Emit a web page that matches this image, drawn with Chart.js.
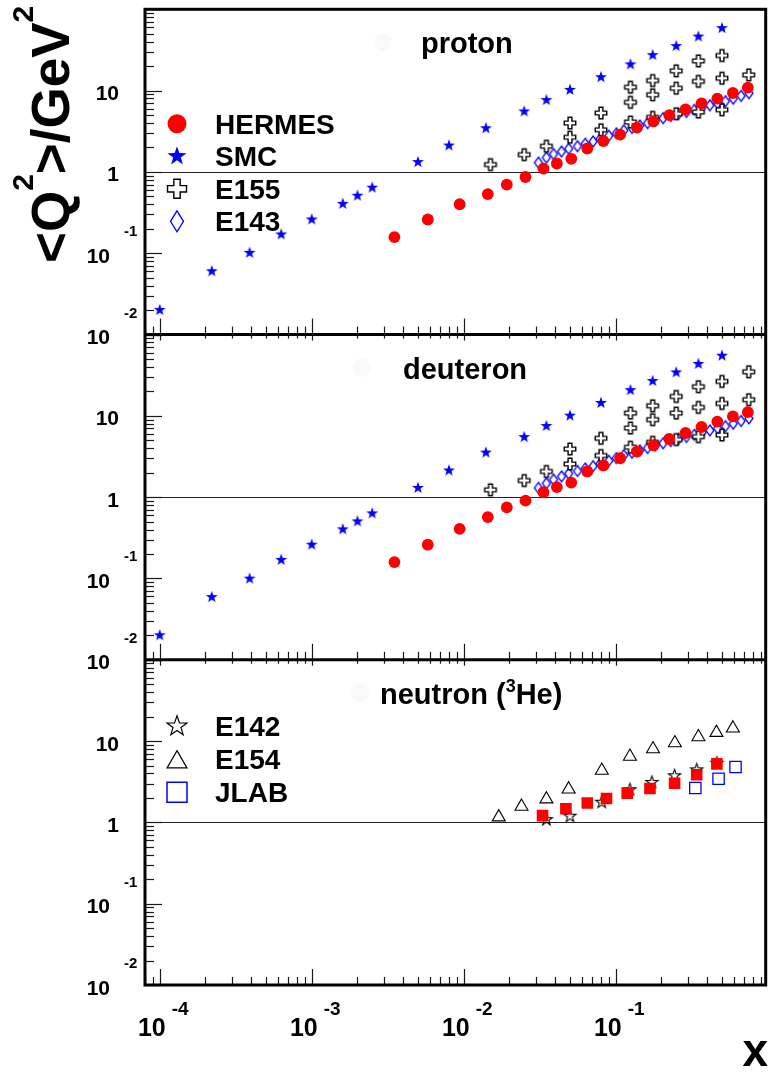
<!DOCTYPE html>
<html>
<head>
<meta charset="utf-8">
<title>Q2 vs x</title>
<script src="https://cdn.jsdelivr.net/npm/chart.js@4.4.1/dist/chart.umd.min.js"></script>
<style>
  html, body { margin: 0; padding: 0; background: #fff; }
  #wrap { position: relative; width: 775px; height: 1072px; }
</style>
</head>
<body>
<div id="wrap"><canvas id="q2Chart" width="775" height="1072"></canvas></div>
<script>
// ---- data: mean Q2 per x bin ----
// HERMES (proton and deuteron use the same x binning)
const hermesX   = [0.0035, 0.0058, 0.0094, 0.0144, 0.0192, 0.0255, 0.0335, 0.041, 0.051, 0.065,
                   0.083, 0.107, 0.138, 0.177, 0.225, 0.288, 0.367, 0.466, 0.59, 0.74];
const hermesQ2p = [0.158, 0.26, 0.40, 0.534, 0.697, 0.866, 1.10, 1.27, 1.45, 1.94,
                   2.40, 2.87, 3.51, 4.20, 4.99, 5.86, 6.96, 7.96, 9.35, 10.9];
const hermesQ2d = [0.159, 0.26, 0.408, 0.569, 0.748, 0.906, 1.15, 1.33, 1.51, 2.07,
                   2.45, 3.01, 3.64, 4.35, 5.19, 6.15, 7.29, 8.49, 9.86, 11.1];
// HERMES neutron (from 3He)
const hermesXn  = [0.033, 0.047, 0.065, 0.087, 0.119, 0.168, 0.244, 0.341, 0.463];
const hermesQ2n = [1.21, 1.47, 1.73, 1.97, 2.29, 2.61, 3.03, 3.85, 5.25];

// SMC
const smcX   = [1.0e-4, 2.2e-4, 3.9e-4, 6.3e-4, 1.0e-3, 1.6e-3, 2.0e-3, 2.5e-3, 5.0e-3, 8.0e-3,
                0.014, 0.025, 0.035, 0.05, 0.08, 0.125, 0.175, 0.25, 0.35, 0.5];
const smcQ2p = [0.020, 0.060, 0.101, 0.170, 0.26, 0.405, 0.51, 0.64, 1.32, 2.11,
                3.44, 5.54, 7.65, 10.2, 14.6, 21.0, 27.3, 35.3, 46.2, 58.6];
const smcQ2d = [0.020, 0.059, 0.0995, 0.169, 0.26, 0.402, 0.503, 0.631, 1.30, 2.13,
                3.53, 5.48, 7.50, 10.05, 14.4, 20.7, 26.8, 34.2, 43.5, 54.9];

// E155 (three spectrometer settings, so several Q2 per x bin)
const e155Xp  = [0.015, 0.025, 0.035, 0.05, 0.05, 0.08, 0.08, 0.125, 0.125, 0.125, 0.175, 0.175, 0.175,
                 0.25, 0.25, 0.25, 0.35, 0.35, 0.35, 0.5, 0.5, 0.5, 0.75];
const e155Q2p = [1.23, 1.63, 2.07, 3.99, 2.67, 5.30, 3.30, 11.0, 7.17, 4.11, 13.3, 8.88, 4.69,
                 17.5, 10.7, 5.19, 23.2, 13.0, 5.45, 27.0, 14.2, 5.81, 15.6];
const e155Xd  = [0.015, 0.025, 0.035, 0.05, 0.05, 0.08, 0.08, 0.125, 0.125, 0.125, 0.175, 0.175, 0.175,
                 0.25, 0.25, 0.25, 0.35, 0.35, 0.35, 0.5, 0.5, 0.5, 0.75, 0.75];
const e155Q2d = [1.23, 1.60, 2.07, 3.91, 2.56, 5.30, 3.25, 10.8, 7.08, 4.11, 13.3, 8.98, 4.73,
                 17.3, 10.8, 5.10, 22.8, 12.7, 5.55, 26.5, 14.2, 5.81, 34.8, 15.8];

// E143
const e143X   = [0.031, 0.035, 0.039, 0.044, 0.049, 0.056, 0.063, 0.071, 0.079, 0.090, 0.101, 0.113, 0.128, 0.144,
                 0.162, 0.182, 0.205, 0.230, 0.259, 0.292, 0.329, 0.370, 0.416, 0.468, 0.527, 0.593, 0.668, 0.752];
const e143Q2p = [1.30, 1.50, 1.66, 1.78, 1.93, 2.07, 2.22, 2.37, 2.55, 2.78, 2.98, 3.24, 3.48, 3.72,
                 3.98, 4.27, 4.58, 4.88, 5.18, 5.45, 5.80, 6.25, 6.60, 6.95, 7.40, 7.95, 8.60, 9.30];
const e143Q2d = [1.30, 1.48, 1.64, 1.80, 1.95, 2.10, 2.25, 2.40, 2.58, 2.80, 3.02, 3.28, 3.52, 3.76,
                 4.02, 4.30, 4.60, 4.90, 5.20, 5.50, 5.85, 6.25, 6.62, 7.00, 7.45, 8.00, 8.65, 9.30];

// neutron experiments
const e142X  = [0.035, 0.05, 0.081, 0.124, 0.173, 0.244, 0.341, 0.463];
const e142Q2 = [1.08, 1.19, 1.77, 2.52, 3.10, 3.74, 4.43, 5.34];
const e154X  = [0.017, 0.024, 0.035, 0.049, 0.081, 0.124, 0.176, 0.245, 0.35, 0.46, 0.59];
const e154Q2 = [1.16, 1.57, 1.93, 2.56, 4.34, 6.45, 7.98, 9.45, 11.2, 12.7, 14.4];
const jlabX  = [0.334, 0.475, 0.614];
const jlabQ2 = [2.65, 3.44, 4.80];

// axis labels
const xTickVals = [1e-4, 1e-3, 1e-2, 1e-1];
const xTickExps = ['-4', '-3', '-2', '-1'];
const yTickVals = [0.01, 0.1, 1, 10];
const yTickBase = ['10', '10', '1', '10'];
const yTickExps = ['-2', '-1', '', ''];

const panelIds = ['yP', 'yD', 'yN'];
const panelTitles = [
  [['proton', false]],
  [['deuteron', false]],
  [['neutron (', false], ['3', true], ['He)', false]]
];
const legendTopLabels = ['HERMES', 'SMC', 'E155', 'E143'];
const legendBottomLabels = ['E142', 'E154', 'JLAB'];

const RED = '#ff0000', BLUE = '#0000ff', BLACK = '#000000';
const FONT = '"Liberation Sans", Arial, Helvetica, sans-serif';

// ---- marker shapes ----
function makeCanvas(w, h, draw) {
  const c = document.createElement('canvas');
  c.width = w; c.height = h;
  draw(c.getContext('2d'), w / 2, h / 2);
  return c;
}
function starPath(g, cx, cy, R) {
  const r = R * 0.4;
  g.beginPath();
  for (let i = 0; i < 10; i++) {
    const a = -Math.PI / 2 + i * Math.PI / 5;
    const rr = (i % 2) ? r : R;
    g.lineTo(cx + rr * Math.cos(a), cy + rr * Math.sin(a));
  }
  g.closePath();
}
function crossPath(g, cx, cy, s) {
  const h = s / 2, a = s / 6;
  const p = [[-a, -h], [a, -h], [a, -a], [h, -a], [h, a], [a, a], [a, h], [-a, h], [-a, a], [-h, a], [-h, -a], [-a, -a]];
  g.beginPath();
  p.forEach(q => g.lineTo(cx + q[0], cy + q[1]));
  g.closePath();
}
function diamondPath(g, cx, cy, w, h) {
  g.beginPath();
  g.moveTo(cx, cy - h / 2); g.lineTo(cx + w / 2, cy); g.lineTo(cx, cy + h / 2); g.lineTo(cx - w / 2, cy);
  g.closePath();
}
function trianglePath(g, cx, cy, r) {
  // equilateral, centred on its bounding box
  const w = r * Math.sqrt(3), h = r * 1.5;
  g.beginPath();
  g.moveTo(cx, cy - h / 2); g.lineTo(cx + w / 2, cy + h / 2); g.lineTo(cx - w / 2, cy + h / 2);
  g.closePath();
}

const filledStar = (R, col) => makeCanvas(Math.ceil(2 * R + 3), Math.ceil(2 * R + 3), (g, cx, cy) => {
  starPath(g, cx, cy, R); g.fillStyle = col; g.fill();
});
const openStar = (R, col, lw) => makeCanvas(Math.ceil(2 * R + 4), Math.ceil(2 * R + 4), (g, cx, cy) => {
  starPath(g, cx, cy, R); g.strokeStyle = col; g.lineWidth = lw; g.stroke();
});
const openCross = (s, col, lw) => makeCanvas(Math.ceil(s + 4), Math.ceil(s + 4), (g, cx, cy) => {
  crossPath(g, cx, cy, s); g.fillStyle = '#fff'; g.fill(); g.strokeStyle = col; g.lineWidth = lw; g.stroke();
});
const openDiamond = (w, h, col, lw) => makeCanvas(Math.ceil(w + 4), Math.ceil(h + 4), (g, cx, cy) => {
  diamondPath(g, cx, cy, w, h); g.strokeStyle = col; g.lineWidth = lw; g.stroke();
});

const smcStar = filledStar(6.3, BLUE);
const e142Star = openStar(6.4, BLACK, 1.1);
const e155Cross = openCross(11.5, BLACK, 1.4);
const e143Diamond = openDiamond(8, 11, BLUE, 1.3);

function pts(xs, ys) { return xs.map((x, i) => ({ x: x, y: ys[i] })); }

function circleSet(label, data, axis) {
  return { label, data, yAxisID: axis, pointStyle: 'circle', pointRadius: 5.9,
           backgroundColor: RED, borderColor: RED, borderWidth: 0 };
}
function imageSet(label, data, axis, img) {
  return { label, data, yAxisID: axis, pointStyle: img, pointRadius: 5 };
}

const datasets = [
  circleSet('HERMES p', pts(hermesX, hermesQ2p), 'yP'),
  imageSet('SMC p', pts(smcX, smcQ2p), 'yP', smcStar),
  imageSet('E155 p', pts(e155Xp, e155Q2p), 'yP', e155Cross),
  imageSet('E143 p', pts(e143X, e143Q2p), 'yP', e143Diamond),

  circleSet('HERMES d', pts(hermesX, hermesQ2d), 'yD'),
  imageSet('SMC d', pts(smcX, smcQ2d), 'yD', smcStar),
  imageSet('E155 d', pts(e155Xd, e155Q2d), 'yD', e155Cross),
  imageSet('E143 d', pts(e143X, e143Q2d), 'yD', e143Diamond),

  { label: 'HERMES n', data: pts(hermesXn, hermesQ2n), yAxisID: 'yN', pointStyle: 'rect', pointRadius: 8.2,
    backgroundColor: RED, borderColor: RED, borderWidth: 0 },
  imageSet('E142', pts(e142X, e142Q2), 'yN', e142Star),
  { label: 'E154', data: pts(e154X, e154Q2), yAxisID: 'yN', pointStyle: 'triangle', pointRadius: 7.5,
    backgroundColor: 'rgba(0,0,0,0)', borderColor: BLACK, borderWidth: 1.1 },
  { label: 'JLAB', data: pts(jlabX, jlabQ2), yAxisID: 'yN', pointStyle: 'rect', pointRadius: 8,
    backgroundColor: 'rgba(0,0,0,0)', borderColor: BLUE, borderWidth: 1.3 }
];

// ---- frame, ticks, labels and legends drawn around the three stacked panels ----
function logSteps(min, max) {
  const out = [];
  for (let e = Math.floor(Math.log10(min)); e <= Math.ceil(Math.log10(max)); e++) {
    for (let m = 1; m < 10; m++) {
      const v = m * Math.pow(10, e);
      if (v >= min * 0.9999 && v <= max * 1.0001) out.push({ v: v, major: m === 1 });
    }
  }
  return out;
}
function line(ctx, x0, y0, x1, y1) {
  ctx.beginPath(); ctx.moveTo(x0, y0); ctx.lineTo(x1, y1); ctx.stroke();
}
function richText(ctx, parts, x, y, size, supSize, raise) {
  ctx.textAlign = 'left';
  parts.forEach(p => {
    ctx.font = 'bold ' + (p[1] ? supSize : size) + 'px ' + FONT;
    ctx.fillText(p[0], x, p[1] ? y - raise : y);
    x += ctx.measureText(p[0]).width;
  });
}

const legendTopMarks = [
  (ctx, x, y) => { ctx.fillStyle = RED; ctx.beginPath(); ctx.arc(x, y, 9.5, 0, 2 * Math.PI); ctx.fill(); },
  (ctx, x, y) => { starPath(ctx, x, y, 10); ctx.fillStyle = BLUE; ctx.fill(); },
  (ctx, x, y) => { crossPath(ctx, x, y, 19); ctx.fillStyle = '#fff'; ctx.fill(); ctx.strokeStyle = BLACK; ctx.lineWidth = 1.4; ctx.stroke(); },
  (ctx, x, y) => { diamondPath(ctx, x, y, 13, 21); ctx.strokeStyle = BLUE; ctx.lineWidth = 1.3; ctx.stroke(); }
];
const legendBottomMarks = [
  (ctx, x, y) => { starPath(ctx, x, y, 10.5); ctx.strokeStyle = BLACK; ctx.lineWidth = 1.2; ctx.stroke(); },
  (ctx, x, y) => { trianglePath(ctx, x, y, 11.5); ctx.strokeStyle = BLACK; ctx.lineWidth = 1.2; ctx.stroke(); },
  (ctx, x, y) => { ctx.strokeStyle = BLUE; ctx.lineWidth = 1.5; ctx.strokeRect(x - 10, y - 10, 20, 20); }
];

const rootFrame = {
  id: 'rootFrame',
  beforeDatasetsDraw(chart) {
    const ctx = chart.ctx, area = chart.chartArea;
    const ghostX = [383, 362, 360];
    ctx.save();
    panelIds.forEach((id, k) => {
      const ys = chart.scales[id];
      // faint blank marker beside the panel title
      ctx.fillStyle = '#f9f9f9';
      ctx.beginPath(); ctx.arc(ghostX[k], ys.top + 33, 9, 0, 2 * Math.PI); ctx.fill();
      // reference line at <Q2> = 1 GeV2
      const y1 = Math.round(ys.getPixelForValue(1)) + 0.5;
      ctx.strokeStyle = '#222'; ctx.lineWidth = 1.2;
      line(ctx, area.left, y1, area.right, y1);
    });
    ctx.restore();
  },
  afterDatasetsDraw(chart) {
    const ctx = chart.ctx, area = chart.chartArea, xs = chart.scales.x;
    const xSteps = logSteps(xs.min, xs.max);
    ctx.save();
    ctx.strokeStyle = '#1a1a1a';
    ctx.lineWidth = 1.2;

    panelIds.forEach((id, k) => {
      const ys = chart.scales[id];
      // y ticks, pointing into the panel
      logSteps(ys.min, ys.max).forEach(t => {
        const py = Math.round(ys.getPixelForValue(t.v)) + 0.5;
        line(ctx, area.left, py, area.left + (t.major ? 17 : 9), py);
      });
      // x ticks at the bottom (and a short row at the top of the lower panels)
      xSteps.forEach(t => {
        const px = Math.round(xs.getPixelForValue(t.v)) + 0.5;
        line(ctx, px, ys.bottom, px, ys.bottom - (t.major ? 16 : 8));
        if (k > 0) line(ctx, px, ys.top, px, ys.top + (t.major ? 6 : 4));
      });
    });

    // panel frames
    ctx.strokeStyle = BLACK;
    ctx.lineWidth = 3;
    ctx.strokeRect(area.left, area.top, area.right - area.left, area.bottom - area.top);
    line(ctx, area.left, chart.scales.yP.bottom, area.right, chart.scales.yP.bottom);
    line(ctx, area.left, chart.scales.yD.bottom, area.right, chart.scales.yD.bottom);

    ctx.fillStyle = BLACK;
    ctx.textBaseline = 'alphabetic';

    // y tick labels
    panelIds.forEach(id => {
      const ys = chart.scales[id];
      yTickVals.forEach((v, i) => {
        const py = ys.getPixelForValue(v);
        ctx.font = 'bold 21px ' + FONT;
        ctx.textAlign = 'right';
        if (yTickExps[i]) {
          ctx.fillText(yTickBase[i], 110, py + 9.5);
          ctx.font = 'bold 15px ' + FONT;
          ctx.textAlign = 'left';
          ctx.fillText(yTickExps[i], 124, py - 17);
        } else {
          ctx.fillText(yTickBase[i], 119, py + 9.5);
        }
      });
    });

    // x tick labels
    xTickVals.forEach((v, i) => {
      const px = xs.getPixelForValue(v);
      ctx.font = 'bold 25px ' + FONT;
      ctx.textAlign = 'right';
      ctx.fillText('10', px + 6, 1036);
      ctx.font = 'bold 19px ' + FONT;
      ctx.textAlign = 'left';
      ctx.fillText(xTickExps[i], px + 12, 1015);
    });

    // panel titles
    const titleX = [421, 403, 380];
    panelIds.forEach((id, k) => {
      richText(ctx, panelTitles[k], titleX[k], chart.scales[id].top + 44, 29, 18, 12);
    });

    // legends
    const yP = chart.scales.yP, yN = chart.scales.yN;
    legendTopLabels.forEach((lab, i) => {
      const cy = yP.top + 114.5 + i * 32.5;
      legendTopMarks[i](ctx, 177, cy);
      ctx.fillStyle = BLACK;
      ctx.font = 'bold 28px ' + FONT;
      ctx.textAlign = 'left';
      ctx.fillText(lab, 215, cy + 10);
    });
    legendBottomLabels.forEach((lab, i) => {
      const cy = yN.top + 66.5 + i * 33;
      legendBottomMarks[i](ctx, 177, cy);
      ctx.fillStyle = BLACK;
      ctx.font = 'bold 28px ' + FONT;
      ctx.textAlign = 'left';
      ctx.fillText(lab, 215, cy + 10);
    });

    // axis titles
    ctx.font = 'bold 46px ' + FONT;
    ctx.textAlign = 'right';
    ctx.fillText('x', 768, 1066);

    ctx.translate(69, 263);
    ctx.rotate(-Math.PI / 2);
    richText(ctx, [['<Q', false], ['2', true], ['>/GeV', false], ['2', true]], 0, 0, 53, 30, 36);
    ctx.restore();
  }
};

new Chart(document.getElementById('q2Chart'), {
  type: 'scatter',
  data: { datasets: datasets },
  options: {
    responsive: false,
    devicePixelRatio: 1,
    animation: false,
    layout: { padding: { left: 145, right: 7, top: 6, bottom: 87 } },
    scales: {
      x:  { type: 'logarithmic', min: 8e-5, max: 0.97, bounds: 'data', display: false },
      yP: { type: 'logarithmic', min: 0.01, max: 100, bounds: 'data', position: 'left', stack: 'panels', stackWeight: 1, weight: 3, display: false },
      yD: { type: 'logarithmic', min: 0.01, max: 100, bounds: 'data', position: 'left', stack: 'panels', stackWeight: 1, weight: 2, display: false },
      yN: { type: 'logarithmic', min: 0.01, max: 100, bounds: 'data', position: 'left', stack: 'panels', stackWeight: 1, weight: 1, display: false }
    },
    plugins: {
      legend: { display: false },
      tooltip: { enabled: false }
    }
  },
  plugins: [rootFrame]
});
</script>
</body>
</html>
